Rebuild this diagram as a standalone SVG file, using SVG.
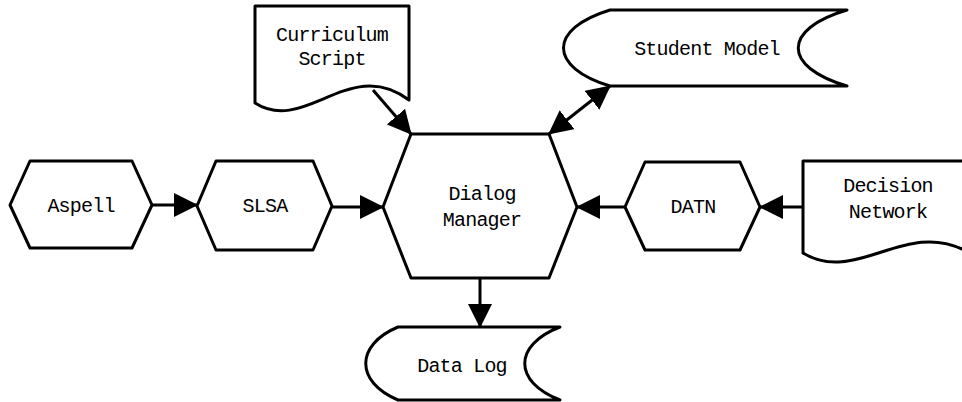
<svg xmlns="http://www.w3.org/2000/svg" width="962" height="402" viewBox="0 0 962 402">
<style>
.s{fill:#fff;stroke:#000;stroke-width:3;stroke-linejoin:round}
.c{fill:none;stroke:#000;stroke-width:3}
.t{font-family:"Liberation Mono","DejaVu Sans Mono",monospace;font-size:20px;letter-spacing:-0.8px;fill:#000;text-anchor:middle}
</style>
<defs>
<marker id="ah" markerUnits="userSpaceOnUse" markerWidth="24" markerHeight="24" viewBox="0 0 24 24" refX="23" refY="12" orient="auto-start-reverse">
<path d="M0,0 L24,12 L0,24 Z" fill="#000"/>
</marker>
</defs>
<rect width="962" height="402" fill="#fff"/>
<g id="connectors">
<line class="c" x1="152" y1="205" x2="197" y2="205" marker-end="url(#ah)"/>
<line class="c" x1="332" y1="207" x2="383" y2="207" marker-end="url(#ah)"/>
<line class="c" x1="373" y1="90" x2="411" y2="134" marker-end="url(#ah)"/>
<line class="c" x1="610" y1="86" x2="549" y2="134" marker-start="url(#ah)" marker-end="url(#ah)"/>
<line class="c" x1="625" y1="207" x2="577" y2="207" marker-end="url(#ah)"/>
<line class="c" x1="803" y1="207" x2="760" y2="207" marker-end="url(#ah)"/>
<line class="c" x1="480" y1="278" x2="480" y2="327" marker-end="url(#ah)"/>
</g>
<g id="curriculum">
<path class="s" d="M255,6 H409 V100 C350,55 305,135 255,103 Z"/>
<text class="t" x="332" y="41">Curriculum</text>
<text class="t" x="332" y="65">Script</text>
</g>
<g id="student">
<path class="s" d="M610,10 H847 C782,29 782,67 847,86 H610 C548,67 548,29 610,10 Z"/>
<text class="t" x="707" y="55">Student Model</text>
</g>
<g id="aspell">
<polygon class="s" points="10,205 30,161 132,161 152,205 132,248 30,248"/>
<text class="t" x="81" y="212">Aspell</text>
</g>
<g id="slsa">
<polygon class="s" points="197,206 216,161 313,161 332,206 313,250 216,250"/>
<text class="t" x="265" y="212">SLSA</text>
</g>
<g id="dialog">
<polygon class="s" points="383,207 411,134 549,134 577,207 549,278 411,278"/>
<text class="t" x="482" y="200">Dialog</text>
<text class="t" x="482" y="226">Manager</text>
</g>
<g id="datn">
<polygon class="s" points="625,207 645,162 740,162 760,207 740,250 645,250"/>
<text class="t" x="693" y="213">DATN</text>
</g>
<g id="decision">
<path class="s" d="M803,161 H964 V250 C905,220 855,285 803,253 Z"/>
<text class="t" x="888" y="192">Decision</text>
<text class="t" x="888" y="218">Network</text>
</g>
<g id="datalog">
<path class="s" d="M398,327 H560 C513,345 513,382 560,400 H398 C355,382 355,345 398,327 Z"/>
<text class="t" x="462" y="372">Data Log</text>
</g>
</svg>
